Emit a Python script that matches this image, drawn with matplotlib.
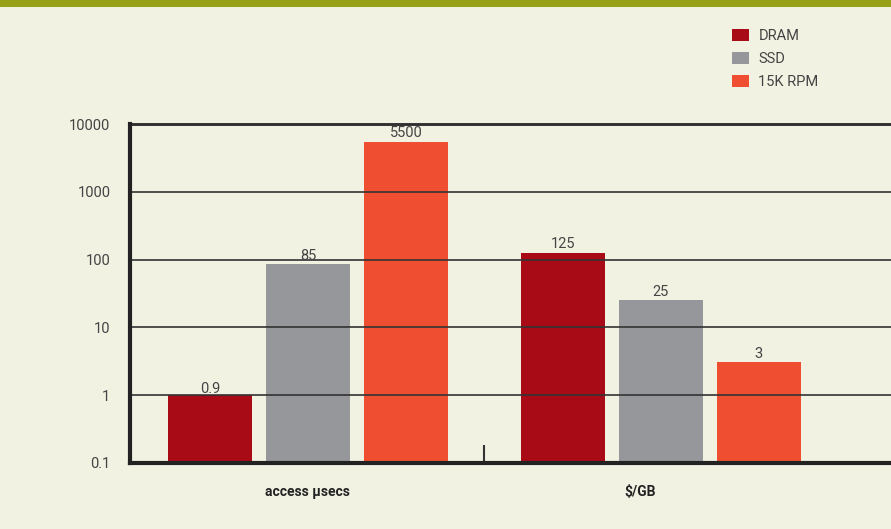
import matplotlib
matplotlib.use('Agg')
from matplotlib import pyplot as plt
from matplotlib.patches import Rectangle
import numpy as np

plt.rcParams['font.family'] = ['Roboto', 'DejaVu Sans']

categories = ['access \u00b5secs', '$/GB']
series = ['DRAM', 'SSD', '15K RPM']
dram = [0.9, 125]
ssd = [85, 25]
rpm15k = [5500, 3]
ytick_vals = [0.1, 1, 10, 100, 1000, 10000]
ytick_labels = ['0.1', '1', '10', '100', '1000', '10000']

colors = ['#a90b16', '#96979b', '#ef4e30']
bg = '#f2f2e3'
W, H = 891, 529

fig = plt.figure(figsize=(W / 100, H / 100), dpi=100, facecolor=bg)

# olive header strip at the very top
fig.patches.append(Rectangle((0, 1 - 7 / H), 1, 7 / H, transform=fig.transFigure,
                             facecolor='#97a116', edgecolor='none', zorder=0))

ax = fig.add_axes([130 / W, (H - 463) / H, (W - 130) / W, (463 - 124) / H])
ax.set_facecolor(bg)
ax.set_yscale('log')
ax.set_ylim(0.1, 10000)
ax.set_xlim(-0.504, 1.652)

x = np.arange(len(categories))
step = 98 / 353
width = 84 / 353
for i, (name, vals) in enumerate(zip(series, [dram, ssd, rpm15k])):
    xs = x + (i - 1) * step
    bars = ax.bar(xs, vals, width=width, bottom=0.1, color=colors[i], label=name, zorder=2)
    for b, v in zip(bars, vals):
        ax.annotate(f'{v:g}', (b.get_x() + b.get_width() / 2, v), xytext=(0, 3.5),
                    textcoords='offset points', ha='center', va='baseline',
                    fontsize=10.5, color='#444444', zorder=6, clip_on=False)

# horizontal rules sit over the bars
ax.set_yticks(ytick_vals)
ax.set_yticklabels(ytick_labels)
ax.yaxis.set_minor_locator(matplotlib.ticker.NullLocator())
ax.grid(axis='y', color='#333333', linewidth=1.2, zorder=3)
ax.set_axisbelow(False)
ax.tick_params(axis='y', length=0, pad=14, labelsize=10.5, labelcolor='#444444')

ax.set_xticks([])
ax.set_xticks([0.5], minor=True)
ax.tick_params(axis='x', which='minor', direction='in', length=13, width=1.5, color='#333333')

for s in ['left', 'bottom']:
    ax.spines[s].set_linewidth(3)
    ax.spines[s].set_color('#222222')
    ax.spines[s].set_zorder(4)
ax.spines['top'].set_linewidth(2)
ax.spines['top'].set_color('#222222')
ax.spines['right'].set_visible(False)

label_x = [0, 0.94]
for lx, c in zip(label_x, categories):
    ax.text(lx, -0.087, c, transform=ax.get_xaxis_transform(), ha='center', va='center',
            fontsize=10, fontweight='bold', color='#222222')

leg = fig.legend(loc='upper left', bbox_to_anchor=(719 / W, 1 - 16 / H), frameon=False,
                 handlelength=1.15, handleheight=0.85, handletextpad=0.65, labelspacing=0.62,
                 fontsize=10.5)
for t in leg.get_texts():
    t.set_color('#444444')

fig.savefig('out.png', dpi=100, facecolor=bg)
